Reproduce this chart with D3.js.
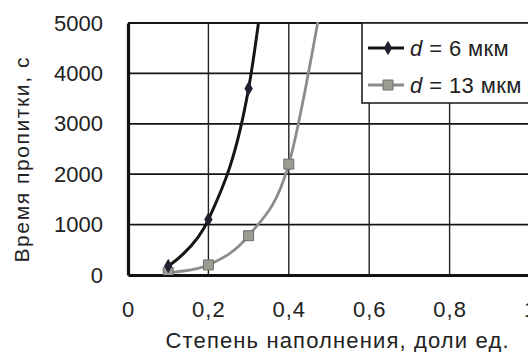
<!DOCTYPE html>
<html>
<head>
<meta charset="utf-8">
<script src="https://cdn.jsdelivr.net/npm/d3@7"></script>
<style>
  body { margin: 0; background: #fff; }
  text { font-family: "Liberation Sans", Arial, sans-serif; fill: #222; }
</style>
</head>
<body>
<div id="chart"></div>
<script>
// fill degree (x) and impregnation time (s); last points lie above 5000 and are clipped
const fill6 = [0.1, 0.2, 0.3, 0.4];
const time6 = [180, 1100, 3700, 10000];
const fill13 = [0.1, 0.2, 0.3, 0.4, 0.5];
const time13 = [50, 200, 780, 2200, 6300];
const seriesNames = ['6', '13'];
const xTicks = [0, 0.2, 0.4, 0.6, 0.8, 1];
const yTicks = [0, 1000, 2000, 3000, 4000, 5000];
const xTitle = 'Степень наполнения, доли ед.';
const yTitle = 'Время пропитки, с';

const W = 528, H = 352;
const plot = { left: 128, right: 530, top: 23, bottom: 275 };

const x = d3.scaleLinear().domain([0, 1]).range([plot.left, plot.right]);
const y = d3.scaleLinear().domain([0, 5000]).range([plot.bottom, plot.top]);

const svg = d3.select('#chart').append('svg')
    .attr('width', W)
    .attr('height', H);

svg.append('defs').append('clipPath').attr('id', 'clip')
  .append('rect')
    .attr('x', plot.left).attr('y', plot.top - 1)
    .attr('width', plot.right - plot.left).attr('height', plot.bottom - plot.top + 1);

// gridlines
svg.append('g').selectAll('line')
    .data(yTicks.slice(1))
    .enter().append('line')
    .attr('x1', plot.left).attr('x2', W)
    .attr('y1', d => y(d)).attr('y2', d => y(d))
    .attr('stroke', '#151515').attr('stroke-width', 1.8);

svg.append('g').selectAll('line')
    .data(xTicks.slice(1, -1))
    .enter().append('line')
    .attr('x1', d => x(d)).attr('x2', d => x(d))
    .attr('y1', plot.top).attr('y2', plot.bottom)
    .attr('stroke', '#222').attr('stroke-width', 1.4);

// axes
const yAxis = svg.append('g')
    .attr('transform', 'translate(' + plot.left + ',0)')
    .call(d3.axisLeft(y).tickValues(yTicks).tickSize(0).tickPadding(25).tickFormat(d3.format('d')));
yAxis.select('.domain').attr('stroke', '#111').attr('stroke-width', 3.2);
yAxis.selectAll('text').style('font-size', '22px').attr('fill', '#222');

const xAxis = svg.append('g')
    .attr('transform', 'translate(0,' + plot.bottom + ')')
    .call(d3.axisBottom(x).tickValues(xTicks).tickSize(0).tickPadding(26)
      .tickFormat(d => d === 0 || d === 1 ? String(d) : String(d).replace('.', ',')));
xAxis.select('.domain').attr('stroke', '#111').attr('stroke-width', 3.2);
xAxis.selectAll('text').style('font-size', '22px').attr('fill', '#222').attr('letter-spacing', '1px');

// titles
svg.append('text')
    .attr('x', 337).attr('y', 348)
    .attr('text-anchor', 'middle')
    .style('font-size', '22px')
    .attr('textLength', 343).attr('lengthAdjust', 'spacing')
    .text(xTitle);

svg.append('text')
    .attr('transform', 'translate(29,160) rotate(-90)')
    .attr('text-anchor', 'middle')
    .style('font-size', '21px')
    .attr('textLength', 205).attr('lengthAdjust', 'spacing')
    .text(yTitle);

// series
const line = d3.line()
    .x(d => x(d[0]))
    .y(d => y(d[1]))
    .curve(d3.curveCardinal.tension(0));

const pts6 = fill6.map((f, i) => [f, time6[i]]);
const pts13 = fill13.map((f, i) => [f, time13[i]]);

const series = svg.append('g').attr('clip-path', 'url(#clip)');

series.append('path')
    .datum(pts13)
    .attr('fill', 'none')
    .attr('stroke', '#8c8c8c')
    .attr('stroke-width', 2.8)
    .attr('d', line);

series.append('path')
    .datum(pts6)
    .attr('fill', 'none')
    .attr('stroke', '#151515')
    .attr('stroke-width', 3)
    .attr('d', line);

const square = d3.symbol().type(d3.symbolSquare).size(100);
const diamond = d3.symbol().type(d3.symbolDiamond).size(60);

series.selectAll('.m13')
    .data(pts13)
    .enter().append('path')
    .attr('class', 'm13')
    .attr('transform', d => 'translate(' + x(d[0]) + ',' + y(d[1]) + ')')
    .attr('d', square)
    .attr('fill', '#9a9d92').attr('stroke', '#6d6d6d').attr('stroke-width', 1);

series.selectAll('.m6')
    .data(pts6)
    .enter().append('path')
    .attr('class', 'm6')
    .attr('transform', d => 'translate(' + x(d[0]) + ',' + y(d[1]) + ')')
    .attr('d', diamond)
    .attr('fill', '#202030');

// legend
const legend = svg.append('g');
legend.append('rect')
    .attr('x', 362).attr('y', 23)
    .attr('width', 180).attr('height', 80)
    .attr('fill', '#fff').attr('stroke', '#222').attr('stroke-width', 1.6);

const legendRows = [
  { name: seriesNames[0], y: 48, stroke: '#151515', sym: diamond, fill: '#202030', mstroke: 'none' },
  { name: seriesNames[1], y: 85, stroke: '#8c8c8c', sym: square, fill: '#9a9d92', mstroke: '#6d6d6d' }
];

legendRows.forEach(r => {
  legend.append('line')
      .attr('x1', 368).attr('x2', 404)
      .attr('y1', r.y).attr('y2', r.y)
      .attr('stroke', r.stroke).attr('stroke-width', 2.8);
  legend.append('path')
      .attr('transform', 'translate(388,' + r.y + ')')
      .attr('d', r.sym)
      .attr('fill', r.fill).attr('stroke', r.mstroke);
  const t = legend.append('text')
      .attr('x', 410).attr('y', r.y + 8)
      .style('font-size', '22px')
      .attr('letter-spacing', '0.4px');
  t.append('tspan').attr('font-style', 'italic').text('d');
  t.append('tspan').text(' = ' + r.name + ' мкм');
});
</script>
</body>
</html>
